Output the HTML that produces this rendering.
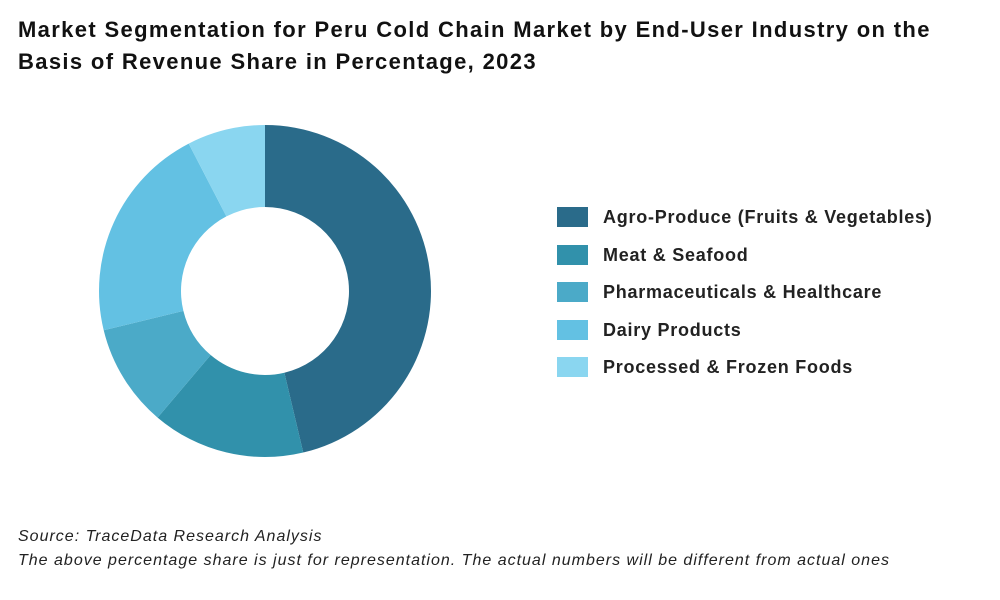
<!DOCTYPE html>
<html><head><meta charset="utf-8"><style>
body{margin:0;background:#fff;font-family:"Liberation Sans",sans-serif;}
#wrap{position:relative;width:1000px;height:600px;overflow:hidden;}
h1{position:absolute;left:18px;top:14px;margin:0;font-size:22px;line-height:32px;font-weight:bold;color:#111;width:960px;letter-spacing:1.35px;}
.src{position:absolute;left:18px;font-size:16px;font-style:italic;color:#222;letter-spacing:1px;}
.leg{position:absolute;left:557px;height:20px;}
.leg .sw{position:absolute;left:0;top:0;width:31px;height:20px;}
.leg .t{position:absolute;left:46px;top:-1px;font-size:18px;font-weight:bold;color:#222;white-space:nowrap;line-height:22px;letter-spacing:0.75px;}
</style></head><body>
<div id="wrap">
<h1>Market Segmentation for Peru Cold Chain Market by End-User Industry on the<br>Basis of Revenue Share in Percentage, 2023</h1>
<svg id="donut" width="1000" height="600" style="position:absolute;left:0;top:0"></svg>
<div id="legend"></div>
<div class="src" style="top:528px">Source: TraceData Research Analysis</div>
<div class="src" style="top:552px">The above percentage share is just for representation. The actual numbers will be different from actual ones</div>
</div>
<script>
const categories=["Agro-Produce (Fruits & Vegetables)","Meat & Seafood","Pharmaceuticals & Healthcare","Dairy Products","Processed & Frozen Foods"];
const values=[46.3,14.9,10,21.2,7.6];
const colors=["#2a6b8a","#3191ab","#4baac8","#63c1e3","#8ad6f0"];
const cx=265,cy=291,R=166,r=84;
const svg=document.getElementById('donut');
const total=values.reduce((a,b)=>a+b,0);
let a0=0;
function pt(rad,a){return [cx+rad*Math.sin(a),cy-rad*Math.cos(a)];}
values.forEach((v,i)=>{
  const a1=a0+v/total*2*Math.PI;
  const large=(a1-a0)>Math.PI?1:0;
  const p1=pt(R,a0),p2=pt(R,a1),p3=pt(r,a1),p4=pt(r,a0);
  const d=`M${p1[0]},${p1[1]} A${R},${R} 0 ${large} 1 ${p2[0]},${p2[1]} L${p3[0]},${p3[1]} A${r},${r} 0 ${large} 0 ${p4[0]},${p4[1]} Z`;
  const path=document.createElementNS('http://www.w3.org/2000/svg','path');
  path.setAttribute('d',d);path.setAttribute('fill',colors[i]);
  
  
  svg.appendChild(path);
  a0=a1;
});
const leg=document.getElementById('legend');
categories.forEach((c,i)=>{
  const e=document.createElement('div');e.className='leg';e.style.top=(207+i*37.5)+'px';
  
  
  e.innerHTML=`<div class="sw" style="background:${colors[i]}"></div><div class="t"></div>`;
  e.querySelector('.t').textContent=c;
  leg.appendChild(e);
});
</script>
</body></html>
